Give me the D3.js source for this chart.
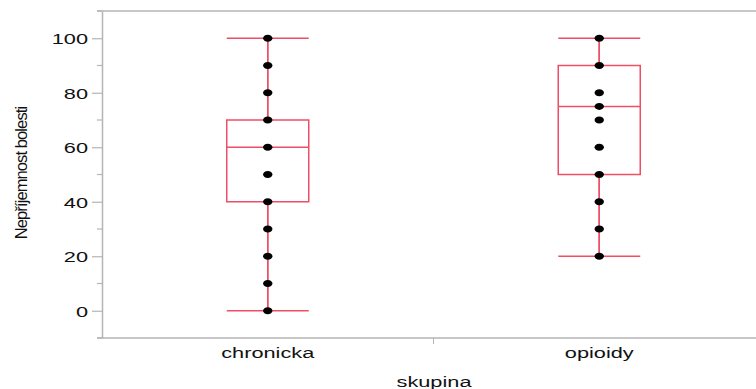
<!DOCTYPE html>
<html>
<head>
<meta charset="utf-8">
<script src="https://cdn.jsdelivr.net/npm/d3@7"></script>
<style>
  body { margin: 0; background: #fff; }
  text { font-family: "Liberation Sans", Arial, sans-serif; fill: #111; }
</style>
</head>
<body>
<div id="chart"></div>
<script>
// data
const groups = ["chronicka", "opioidy"];
const chronickaValues = [0, 10, 20, 30, 40, 50, 60, 70, 80, 90, 100];
const opioidyValues = [20, 30, 40, 50, 60, 70, 75, 80, 90, 100];
// box summaries: [lower whisker, Q1, median, Q3, upper whisker]
const chronickaBox = [0, 40, 60, 70, 100];
const opioidyBox = [20, 50, 75, 90, 100];
const yTicks = [0, 20, 40, 60, 80, 100];
const yMinorTicks = [-10, 10, 30, 50, 70, 90, 110];

const width = 756;
const height = 389;
const marginTop = 11;
const marginBottom = 51;
const marginLeft = 102;
const stretch = 1.45; // text in the source image is wide

const red = "#ee4f66";
const grey = "#b4b4b4";

const x = d3.scaleBand()
    .domain(groups)
    .range([marginLeft, 765]);

const y = d3.scaleLinear()
    .domain([-10, 110])
    .range([height - marginBottom, marginTop]);

const svg = d3.select("#chart").append("svg")
    .attr("width", width)
    .attr("height", height);

// frame: top and bottom lines run off the right edge
svg.append("line")
    .attr("x1", marginLeft - 5).attr("x2", width)
    .attr("y1", y(110)).attr("y2", y(110))
    .attr("stroke", grey).attr("stroke-width", 1.5);

// y axis
const gy = svg.append("g")
    .attr("transform", `translate(${marginLeft},0)`)
    .call(d3.axisLeft(y).tickValues(yTicks).tickSize(10).tickSizeOuter(0));
gy.select(".domain").attr("stroke", grey).attr("stroke-width", 1.5);
gy.selectAll(".tick line").attr("stroke", grey).attr("stroke-width", 1.2);
gy.selectAll(".tick text")
    .attr("x", null)
    .attr("dy", "0.36em")
    .attr("font-size", 15)
    .attr("transform", `translate(-14,0) scale(${stretch},1)`);

gy.selectAll(".minor")
    .data(yMinorTicks)
    .join("line")
    .attr("class", "minor")
    .attr("x1", -5).attr("x2", 0)
    .attr("y1", d => y(d)).attr("y2", d => y(d))
    .attr("stroke", grey).attr("stroke-width", 1.2);

// x axis
const gx = svg.append("g")
    .attr("transform", `translate(0,${height - marginBottom})`);
gx.append("line")
    .attr("x1", marginLeft - 5).attr("x2", width)
    .attr("stroke", grey).attr("stroke-width", 1.5);
gx.append("line")
    .attr("x1", x("opioidy")).attr("x2", x("opioidy"))
    .attr("y1", 0).attr("y2", 6)
    .attr("stroke", grey).attr("stroke-width", 1);
gx.selectAll(".cat")
    .data(groups)
    .join("text")
    .attr("class", "cat")
    .attr("text-anchor", "middle")
    .attr("font-size", 15)
    .attr("transform", d => `translate(${x(d) + x.bandwidth() / 2},20) scale(${stretch},1)`)
    .text(d => d);

// axis titles
svg.append("text")
    .attr("text-anchor", "middle")
    .attr("font-size", 15)
    .attr("transform", `translate(434,387) scale(${stretch},1)`)
    .text("skupina");

svg.append("text")
    .attr("text-anchor", "middle")
    .attr("font-size", 16.5)
    .attr("letter-spacing", -0.9)
    .attr("transform", "translate(27,173) rotate(-90)")
    .text("Nepříjemnost bolesti");

// boxes
const boxes = [
    { group: "chronicka", stats: chronickaBox, values: chronickaValues },
    { group: "opioidy", stats: opioidyBox, values: opioidyValues }
];
const boxWidth = 82;

const gb = svg.selectAll(".box")
    .data(boxes)
    .join("g")
    .attr("class", "box")
    .attr("transform", d => `translate(${x(d.group) + x.bandwidth() / 2},0)`);

gb.append("line")
    .attr("y1", d => y(d.stats[0])).attr("y2", d => y(d.stats[4]))
    .attr("stroke", red).attr("stroke-width", 1.5);

gb.append("rect")
    .attr("x", -boxWidth / 2)
    .attr("width", boxWidth)
    .attr("y", d => y(d.stats[3]))
    .attr("height", d => y(d.stats[1]) - y(d.stats[3]))
    .attr("fill", "#fff")
    .attr("stroke", red).attr("stroke-width", 1.5);

gb.selectAll(".hline")
    .data(d => [d.stats[0], d.stats[2], d.stats[4]])
    .join("line")
    .attr("class", "hline")
    .attr("x1", -boxWidth / 2).attr("x2", boxWidth / 2)
    .attr("y1", d => y(d)).attr("y2", d => y(d))
    .attr("stroke", red).attr("stroke-width", 1.5);

// inner whisker parts drawn over the box fill
gb.append("line")
    .attr("y1", d => y(d.stats[0])).attr("y2", d => y(d.stats[1]))
    .attr("stroke", red).attr("stroke-width", 1.5);
gb.append("line")
    .attr("y1", d => y(d.stats[3])).attr("y2", d => y(d.stats[4]))
    .attr("stroke", red).attr("stroke-width", 1.5);

gb.selectAll(".pt")
    .data(d => d.values)
    .join("ellipse")
    .attr("class", "pt")
    .attr("cy", d => y(d))
    .attr("rx", 4.7)
    .attr("ry", 3.5)
    .attr("fill", "#000");
</script>
</body>
</html>
